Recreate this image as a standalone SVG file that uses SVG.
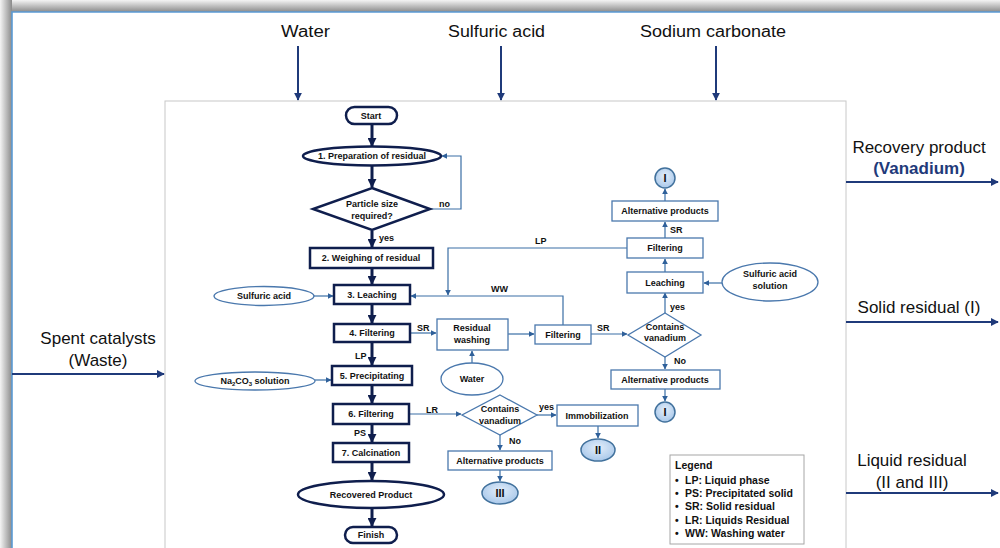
<svg xmlns="http://www.w3.org/2000/svg" width="1000" height="548" viewBox="0 0 1000 548">
<defs>
<linearGradient id="shTop" x1="0" y1="0" x2="0" y2="1"><stop offset="0" stop-color="#f4f4f4"/><stop offset="1" stop-color="#8a8a8a"/></linearGradient>
<linearGradient id="shLeft" x1="0" y1="0" x2="1" y2="0"><stop offset="0" stop-color="#f4f4f4"/><stop offset="1" stop-color="#8a8a8a"/></linearGradient>
<radialGradient id="circ" cx="0.5" cy="0.4" r="0.6"><stop offset="0" stop-color="#e3eefa"/><stop offset="1" stop-color="#a9c8ea"/></radialGradient>
<marker id="thick" viewBox="0 0 10 10" refX="9" refY="5" markerWidth="9" markerHeight="9" markerUnits="userSpaceOnUse" orient="auto"><path d="M0,0 L10,5 L0,10 z" fill="#0f1e4d"/></marker>
<marker id="thin" viewBox="0 0 10 10" refX="9" refY="5" markerWidth="6" markerHeight="6" markerUnits="userSpaceOnUse" orient="auto"><path d="M0,0 L10,5 L0,10 z" fill="#2f609a"/></marker>
<marker id="outer" viewBox="0 0 10 10" refX="9" refY="5" markerWidth="8" markerHeight="8" markerUnits="userSpaceOnUse" orient="auto"><path d="M0,0 L10,5 L0,10 z" fill="#1f3a7a"/></marker>
</defs>
<style>
.t{font-family:"Liberation Sans",Arial,sans-serif;font-size:9px;font-weight:bold;fill:#111;text-anchor:middle}
.lb{font-family:"Liberation Sans",Arial,sans-serif;font-size:9px;font-weight:bold;fill:#111}
.big{font-family:"Liberation Sans",Arial,sans-serif;font-size:17px;fill:#111;text-anchor:middle}
.top{font-family:"Liberation Sans",Arial,sans-serif;font-size:16px;fill:#111}
.main{fill:#fff;stroke:#0f1e4d;stroke-width:2.5}
.side{fill:#fff;stroke:#4a78ad;stroke-width:1.3}
.cir{fill:url(#circ);stroke:#41719c;stroke-width:1.5}
.ma{stroke:#0f1e4d;stroke-width:3;fill:none;marker-end:url(#thick)}
.sa{stroke:#3a6ea5;stroke-width:1.2;fill:none;marker-end:url(#thin)}
.oa{stroke:#1f3a7a;stroke-width:2;fill:none;marker-end:url(#outer)}
.lg{font-family:"Liberation Sans",Arial,sans-serif;font-size:10.5px;font-weight:bold;fill:#111}
</style>
<rect width="1000" height="548" fill="#fff"/>
<rect x="0" y="0" width="1000" height="12" fill="url(#shTop)"/>
<rect x="0" y="0" width="12" height="548" fill="url(#shLeft)"/>
<path d="M12,548 V12 H1000" fill="none" stroke="#5b9bd5" stroke-width="1.6"/>
<rect x="165" y="101" width="681" height="460" fill="none" stroke="#c8c8c8" stroke-width="1"/>

<g id="outer-labels">
<text class="top" x="281" y="37" textLength="49" lengthAdjust="spacingAndGlyphs">Water</text>
<text class="top" x="448" y="37" textLength="97" lengthAdjust="spacingAndGlyphs">Sulfuric acid</text>
<text class="top" x="640" y="37" textLength="146" lengthAdjust="spacingAndGlyphs">Sodium carbonate</text>
<text class="big" x="98" y="344">Spent catalysts</text>
<text class="big" x="98" y="366">(Waste)</text>
<text class="big" x="919" y="153">Recovery product</text>
<text class="big" x="919" y="174" style="font-weight:bold;fill:#1f3a7a">(Vanadium)</text>
<text class="big" x="919" y="313">Solid residual (I)</text>
<text class="big" x="912" y="466">Liquid residual</text>
<text class="big" x="912" y="488">(II and III)</text>
</g>

<g id="connectors">
<path class="oa" d="M298,46 V100"/>
<path class="oa" d="M501,46 V100"/>
<path class="oa" d="M716,46 V100"/>
<path class="oa" d="M12,374 H164"/>
<path class="oa" d="M846,182 H998"/>
<path class="oa" d="M846,322 H998"/>
<path class="oa" d="M846,493 H998"/>

<path class="ma" d="M372,124 V146"/>
<path class="ma" d="M372,166 V187"/>
<path class="ma" d="M372,231 V247"/>
<path class="ma" d="M372,269 V284"/>
<path class="ma" d="M372,305 V323"/>
<path class="ma" d="M372,343 V365"/>
<path class="ma" d="M372,386 V403"/>
<path class="ma" d="M372,425 V442"/>
<path class="ma" d="M372,463 V480"/>
<path class="ma" d="M372,509 V526"/>

<path class="sa" d="M430,209 H461 V156 H442"/>
<path class="sa" d="M314,296 H333"/>
<path class="sa" d="M315,380 H331"/>
<path class="sa" d="M410,333 H436"/>
<path class="sa" d="M508,334 H534"/>
<path class="sa" d="M591,334 H627"/>
<path class="sa" d="M472,363 V351"/>
<path class="sa" d="M563,325 V296 H411"/>
<path class="sa" d="M627,248 H448 V295"/>
<path class="sa" d="M665,313 V293"/>
<path class="sa" d="M665,357 V369"/>
<path class="sa" d="M665,389 V401"/>
<path class="sa" d="M722,283 H704"/>
<path class="sa" d="M665,272 V259"/>
<path class="sa" d="M665,238 V222"/>
<path class="sa" d="M665,201 V189"/>
<path class="sa" d="M409,414 H461"/>
<path class="sa" d="M537,415 H556"/>
<path class="sa" d="M598,426 V438"/>
<path class="sa" d="M500,435 V450"/>
<path class="sa" d="M500,470 V481"/>

<text class="lb" x="439" y="207">no</text>
<text class="lb" x="379" y="241">yes</text>
<text class="lb" x="417" y="331">SR</text>
<text class="lb" x="355" y="359">LP</text>
<text class="lb" x="354" y="436">PS</text>
<text class="lb" x="426" y="413">LR</text>
<text class="lb" x="535" y="244">LP</text>
<text class="lb" x="491" y="292">WW</text>
<text class="lb" x="597" y="331">SR</text>
<text class="lb" x="670" y="310">yes</text>
<text class="lb" x="674" y="364">No</text>
<text class="lb" x="670" y="233">SR</text>
<text class="lb" x="539" y="410">yes</text>
<text class="lb" x="509" y="444">No</text>
</g>

<g id="start"><rect class="main" x="346" y="107" width="51" height="17" rx="8.5"/><text class="t" x="371" y="118.5">Start</text></g>
<g id="prep"><ellipse class="main" cx="372" cy="156" rx="69" ry="9.5"/><text class="t" x="372" y="159.3">1. Preparation of residual</text></g>
<g id="particle"><path class="main" d="M372,188 L430,209 L372,230 L313,209 Z"/><text class="t" x="372" y="207">Particle size</text><text class="t" x="372" y="219">required?</text></g>
<g id="weigh"><rect class="main" x="310" y="248" width="123" height="20"/><text class="t" x="371" y="261.3">2. Weighing of residual</text></g>
<g id="leach3"><rect class="main" x="334" y="285" width="76" height="19"/><text class="t" x="372" y="297.8">3. Leaching</text></g>
<g id="sulf"><ellipse class="side" cx="264" cy="296" rx="50" ry="9.5"/><text class="t" x="264" y="299.3">Sulfuric acid</text></g>
<g id="filt4"><rect class="main" x="334" y="324" width="76" height="18"/><text class="t" x="372" y="336.3">4. Filtering</text></g>
<g id="precip"><rect class="main" x="332" y="366" width="80" height="19"/><text class="t" x="372" y="378.8">5. Precipitating</text></g>
<g id="na2co3"><ellipse class="side" cx="255" cy="381" rx="60" ry="9"/><text class="t" x="255" y="384.3">Na<tspan font-size="6" dy="2">2</tspan><tspan dy="-2">CO</tspan><tspan font-size="6" dy="2">3</tspan><tspan dy="-2"> solution</tspan></text></g>
<g id="filt6"><rect class="main" x="333" y="404" width="76" height="20"/><text class="t" x="371" y="417.3">6. Filtering</text></g>
<g id="calc"><rect class="main" x="333" y="443" width="76" height="19"/><text class="t" x="371" y="455.8">7. Calcination</text></g>
<g id="recovered"><ellipse class="main" cx="371" cy="494.5" rx="73" ry="13.5"/><text class="t" x="371" y="497.8">Recovered Product</text></g>
<g id="finish"><rect class="main" x="345" y="527" width="52" height="16" rx="8"/><text class="t" x="371" y="538.3">Finish</text></g>

<g id="washing"><rect class="side" x="437" y="319" width="71" height="31"/><text class="t" x="472" y="331">Residual</text><text class="t" x="472" y="343">washing</text></g>
<g id="water"><ellipse class="side" cx="472" cy="379" rx="31" ry="16"/><text class="t" x="472" y="382.3">Water</text></g>
<g id="filtmid"><rect class="side" x="535" y="325" width="56" height="19"/><text class="t" x="563" y="337.8">Filtering</text></g>
<g id="contains1"><path class="side" d="M665,313 L701,335 L665,357 L628,335 Z"/><text class="t" x="665" y="330">Contains</text><text class="t" x="665" y="341">vanadium</text></g>
<g id="leachR"><rect class="side" x="627" y="272" width="76" height="21"/><text class="t" x="665" y="285.8">Leaching</text></g>
<g id="sulfsol"><ellipse class="side" cx="770" cy="282" rx="48" ry="19"/><text class="t" x="770" y="277">Sulfuric acid</text><text class="t" x="770" y="289">solution</text></g>
<g id="filtR"><rect class="side" x="627" y="238" width="76" height="20"/><text class="t" x="665" y="251.3">Filtering</text></g>
<g id="altTop"><rect class="side" x="612" y="201" width="106" height="20"/><text class="t" x="665" y="214.3">Alternative products</text></g>
<g id="circTop"><circle class="cir" cx="665" cy="178" r="10"/><text class="t" x="665" y="182" style="font-size:11px">I</text></g>
<g id="altMid"><rect class="side" x="611" y="370" width="109" height="19"/><text class="t" x="665" y="382.8">Alternative products</text></g>
<g id="circMid"><circle class="cir" cx="665" cy="412" r="10"/><text class="t" x="665" y="416" style="font-size:11px">I</text></g>
<g id="contains2"><path class="side" d="M500,395 L537,415 L500,435 L462,415 Z"/><text class="t" x="500" y="412">Contains</text><text class="t" x="500" y="424">vanadium</text></g>
<g id="immob"><rect class="side" x="557" y="405" width="81" height="21"/><text class="t" x="597" y="418.8">Immobilization</text></g>
<g id="circII"><ellipse class="cir" cx="598" cy="450" rx="17" ry="11"/><text class="t" x="598" y="454" style="font-size:11px">II</text></g>
<g id="altLow"><rect class="side" x="448" y="451" width="104" height="19"/><text class="t" x="500" y="463.8">Alternative products</text></g>
<g id="circIII"><ellipse class="cir" cx="500" cy="493" rx="18" ry="11"/><text class="t" x="500" y="497" style="font-size:11px">III</text></g>

<g id="legend">
<rect x="670" y="455" width="134" height="89" fill="#fff" stroke="#a6a6a6" stroke-width="1"/>
<text class="lg" x="675" y="469">Legend</text>
<text class="lg" x="675" y="484">•</text><text class="lg" x="685" y="484">LP: Liquid phase</text>
<text class="lg" x="675" y="497">•</text><text class="lg" x="685" y="497">PS: Precipitated solid</text>
<text class="lg" x="675" y="510">•</text><text class="lg" x="685" y="510">SR: Solid residual</text>
<text class="lg" x="675" y="524">•</text><text class="lg" x="685" y="524">LR: Liquids Residual</text>
<text class="lg" x="675" y="537">•</text><text class="lg" x="685" y="537">WW: Washing water</text>
</g>
</svg>
